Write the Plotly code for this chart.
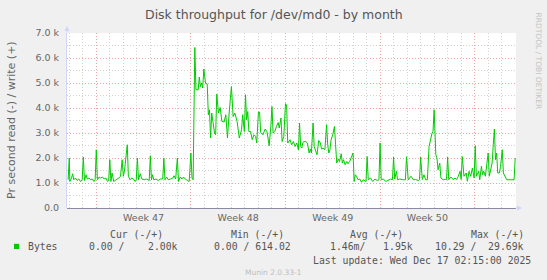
import datetime as dt
import plotly.graph_objects as go

# ---- data ----
week_start = dt.datetime(2025, 11, 17)          # Monday of ISO week 47
range_start_h = -52.0                           # hours relative to week_start
range_end_h = 745.4

hours = [
    -50, -48, -47, -44, -42, -40, -37, -34, -31, -28, -25, -23, -21, -18, -16, -13, -10, -7, -4, -2,
    0, 2, 5, 8, 11, 14, 17, 20, 22, 24, 26, 28, 31, 34, 37, 40, 43, 46, 48, 50, 53, 55, 57, 60, 63, 66,
    69, 71, 73, 75, 78, 81, 85, 89, 92, 94, 96, 98, 100, 102, 106, 110, 114, 118, 120, 122, 125, 128,
    132, 136, 138, 141, 144, 146, 149, 152, 155, 158, 162, 165, 168, 170, 172, 175,
    177, 181, 183, 185, 187, 189, 191, 194, 197, 199, 201, 203, 205, 208, 210, 212, 214, 217, 220, 223,
    227, 230, 233, 236, 240, 243, 246, 250, 254, 258, 260, 263, 265, 267, 269, 271, 274, 277, 280, 283,
    285, 288, 290, 292, 296, 300, 303, 305, 307, 310, 312, 314, 317, 320, 323, 325, 328, 330, 333, 336,
    338, 340, 344, 347, 350, 353, 356, 359, 361, 363, 365, 367, 369, 372, 375, 378, 380, 382, 385, 387,
    390, 392, 395, 398, 400, 403, 406, 409, 411, 413, 415, 417, 420, 423, 425, 427, 430, 432, 435, 437,
    439, 442, 445, 447, 450, 453, 456, 458, 460, 462, 465, 468, 471, 474, 479, 481, 483, 487, 491, 495,
    499, 502, 504, 506, 510, 514, 519, 523, 526, 528, 530, 533, 535, 539, 545, 549, 551, 554, 559, 563,
    567, 572, 574, 576, 579, 582, 585, 588, 591, 594, 596, 598, 600, 603, 605, 607, 610, 612, 616, 620,
    622, 624, 626, 630, 634, 637, 640, 643, 646, 648, 650, 653, 657, 659, 662, 665, 668, 671, 673, 675,
    679, 681, 684, 686, 688, 691, 693, 696, 698, 700, 703, 705, 707, 709, 711, 713, 716, 718, 721, 723,
    726, 729, 735, 742, 744,
]
write_k = [
    1.13, 2.0, 1.06, 1.2, 1.37, 1.13, 1.2, 1.1, 1.16, 1.06, 1.13, 2.04, 1.1, 1.33, 1.16, 1.2, 1.13, 1.16, 1.06, 1.13,
    2.33, 1.13, 1.24, 1.2, 1.24, 1.16, 1.2, 1.06, 1.1, 1.93, 1.06, 1.4, 1.06, 1.13, 1.16, 1.2, 1.27, 1.93, 1.27, 1.47, 2.09, 2.53, 1.27, 1.13, 1.2, 1.16,
    1.06, 1.13, 2.0, 1.13, 1.37, 1.16, 1.13, 1.16, 1.13, 1.1, 2.09, 1.13, 1.33, 1.13, 1.16, 1.1, 1.16, 1.16, 2.0, 1.13, 1.24, 1.13,
    1.16, 1.2, 1.29, 1.16, 2.0, 1.06, 1.24, 1.16, 1.24, 1.16, 1.1, 1.06, 2.2, 1.2, 1.13, 6.42,
    4.73, 4.73, 5.24, 4.86, 5.0, 4.8, 5.56, 5.0, 4.96, 3.73, 3.93, 2.8, 3.8, 3.4, 3.0, 2.93, 4.56, 3.8, 4.02, 3.47,
    3.44, 3.73, 2.8, 3.8, 4.86, 3.66, 3.8, 3.47, 2.8, 3.13, 3.73, 3.06, 4.53, 3.53, 3.86, 3.06, 3.06, 2.73, 2.93, 2.86,
    2.6, 3.84, 3.84, 3.02, 2.93, 3.16, 3.06, 2.8, 2.49, 3.26, 4.06, 3.0, 3.06, 3.26, 3.42, 3.2, 3.6, 2.66, 2.86, 4.17,
    4.13, 2.6, 2.73, 2.53, 2.66, 2.46, 2.6, 2.33, 3.4, 2.46, 2.4, 2.62, 2.66, 2.66, 2.6, 2.2, 2.36, 2.2, 3.4, 2.46,
    2.26, 2.13, 2.7, 2.6, 2.36, 2.4, 2.33, 3.33, 2.53, 2.2, 2.33, 2.73, 2.93, 3.26, 2.53, 1.8, 1.96, 1.86, 2.17, 1.8,
    1.93, 1.73, 1.86, 1.77, 1.86, 2.0, 2.2, 1.06, 1.33, 1.27, 1.13, 1.16, 1.03, 1.13, 1.06, 2.06, 1.13, 1.2, 1.06, 1.16,
    1.1, 1.13, 2.6, 1.13, 1.16, 1.06, 1.13, 1.16, 1.13, 2.04, 1.16, 1.47, 1.13, 1.16, 1.13, 1.13, 2.05, 1.13, 1.27, 1.13,
    1.14, 1.1, 1.13, 2.04, 1.14, 1.33, 1.13, 1.13, 2.46, 2.86, 2.97, 3.06, 3.93, 2.13, 2.0, 1.53, 1.8, 1.2, 1.13, 1.14,
    1.13, 2.04, 1.13, 1.24, 1.13, 1.2, 1.14, 1.27, 1.47, 1.14, 2.06, 1.27, 1.4, 1.07, 1.47, 1.27, 1.6, 1.2, 2.49, 1.27,
    1.47, 1.13, 1.67, 1.33, 1.47, 1.27, 1.73, 2.2, 1.27, 1.53, 1.8, 2.53, 3.16, 1.93, 2.2, 1.4, 1.4, 1.67, 2.33, 1.4,
    1.27, 1.13, 1.13, 1.13, 2.0,
]
y_tick_vals = [0, 1000, 2000, 3000, 4000, 5000, 6000, 7000]
y_tick_text = ["0.0", "1.0 k", "2.0 k", "3.0 k", "4.0 k", "5.0 k", "6.0 k", "7.0 k"]

title_text = "Disk throughput for /dev/md0 - by month"
y_title = "Pr second read (-) / write (+)"
series_name = "Bytes"
legend_headers = ["Cur (-/+)", "Min (-/+)", "Avg (-/+)", "Max (-/+)"]
legend_values = ["0.00 /    2.00k", "0.00 / 614.02", "1.46m/   1.95k", "10.29 /  29.69k"]
last_update = "Last update: Wed Dec 17 02:15:00 2025"
munin_version = "Munin 2.0.33-1"
rrd_credit = "RRDTOOL / TOBI OETIKER"

# ---- figure ----
times = [week_start + dt.timedelta(hours=h) for h in hours]
values = [v * 1000 for v in write_k]

W, H = 547, 280
ML, MR, MT, MB = 67, 31, 33, 72
PW, PH = W - ML - MR, H - MT - MB


def px(x):
    return (x - ML) / PW


def py(y):
    return (H - MB - y) / PH


nb = lambda s: s.replace(" ", "\u00a0")

fig = go.Figure()
fig.add_trace(go.Scatter(x=times, y=values, mode="lines", name=series_name,
                         line=dict(color="#00cc00", width=1), showlegend=False))

GRID = "#d2d2d2"
MGRID = "#eba3a3"
DASH = "1px,2px"
AXIS_COL = "#666666"

fig.update_layout(
    width=W, height=H, margin=dict(l=ML, r=MR, t=MT, b=MB),
    paper_bgcolor="#f0f0f0", plot_bgcolor="#ffffff",
    font=dict(family="DejaVu Sans", color=AXIS_COL, size=9.5),
    xaxis=dict(
        type="date",
        range=[week_start + dt.timedelta(hours=range_start_h), week_start + dt.timedelta(hours=range_end_h)],
        tick0=week_start, dtick=7 * 86400000, ticklabelmode="period", tickformat="Week %V",
        showgrid=True, gridcolor=MGRID, griddash=DASH, gridwidth=1,
        minor=dict(dtick=86400000, tick0=week_start, showgrid=True, gridcolor=GRID, griddash=DASH, gridwidth=1),
        ticks="", showline=False, zeroline=False, fixedrange=True,
        tickfont=dict(size=9.5, color=AXIS_COL), ticklabelstandoff=2,
    ),
    yaxis=dict(
        range=[0, 7000], tickmode="array", tickvals=y_tick_vals, ticktext=y_tick_text,
        showgrid=True, gridcolor=MGRID, griddash=DASH, gridwidth=1,
        minor=dict(dtick=500, showgrid=True, gridcolor=GRID, griddash=DASH, gridwidth=1),
        zeroline=True, zerolinecolor="#8a8aa6", zerolinewidth=1,
        showline=True, linecolor="#CFD6F8", linewidth=1,
        ticks="", tickfont=dict(size=9.5, color=AXIS_COL), ticklabelstandoff=5,
    ),
)

ann = []
ann.append(dict(text=title_text, x=px(273.5), y=py(14), xref="paper", yref="paper",
                showarrow=False, font=dict(size=12.5, color="#555555"), xanchor="center", yanchor="middle"))
ann.append(dict(text=y_title, x=px(11), y=py(120), xref="paper", yref="paper", textangle=-90,
                showarrow=False, font=dict(size=11, color=AXIS_COL), xanchor="center", yanchor="middle"))
ann.append(dict(text=rrd_credit, x=px(538), y=py(60.5), xref="paper", yref="paper", textangle=90,
                showarrow=False, font=dict(size=7.5, color="#c4c4c4"), xanchor="center", yanchor="middle"))

mono = "DejaVu Sans Mono"
LEG = "#555555"
for txt, right in zip(legend_headers, [164.5, 285.8, 405.2, 526.4]):
    ann.append(dict(text=nb(txt), x=px(right), y=py(234.9), xref="paper", yref="paper", showarrow=False,
                    xanchor="right", yanchor="middle", font=dict(family=mono, size=9.8, color=LEG)))
for txt, right in zip(legend_values, [180.2, 292.8, 414.8, 526.4]):
    ann.append(dict(text=nb(txt), x=px(right), y=py(246.4), xref="paper", yref="paper", showarrow=False,
                    xanchor="right", yanchor="middle", font=dict(family=mono, size=9.8, color=LEG)))
ann.append(dict(text=series_name, x=px(26), y=py(246.4), xref="paper", yref="paper", showarrow=False,
                xanchor="left", yanchor="middle", font=dict(family=mono, size=9.8, color=LEG)))
ann.append(dict(text=nb(last_update), x=px(533.2), y=py(260.3), xref="paper", yref="paper", showarrow=False,
                xanchor="right", yanchor="middle", font=dict(family=mono, size=9.8, color=LEG)))
ann.append(dict(text=munin_version, x=px(273.5), y=py(272.5), xref="paper", yref="paper", showarrow=False,
                xanchor="center", yanchor="middle", font=dict(size=7.5, color="#bdbdbd")))
# axis arrows
ann.append(dict(text="", x=0, y=py(26), xref="paper", yref="paper", showarrow=True, ax=0, ay=8,
                arrowhead=2, arrowsize=1, arrowwidth=1, arrowcolor="#CFD6F8"))
ann.append(dict(text="", x=px(522), y=0, xref="paper", yref="paper", showarrow=True, ax=-8, ay=0,
                arrowhead=2, arrowsize=1, arrowwidth=1, arrowcolor="#CFD6F8"))
fig.update_layout(annotations=ann)

# legend swatch
fig.add_shape(type="rect", xref="paper", yref="paper", x0=px(14), x1=px(19.2), y0=py(249), y1=py(243.8),
              fillcolor="#00cc00", line=dict(width=0))

fig.write_html("out.html")
